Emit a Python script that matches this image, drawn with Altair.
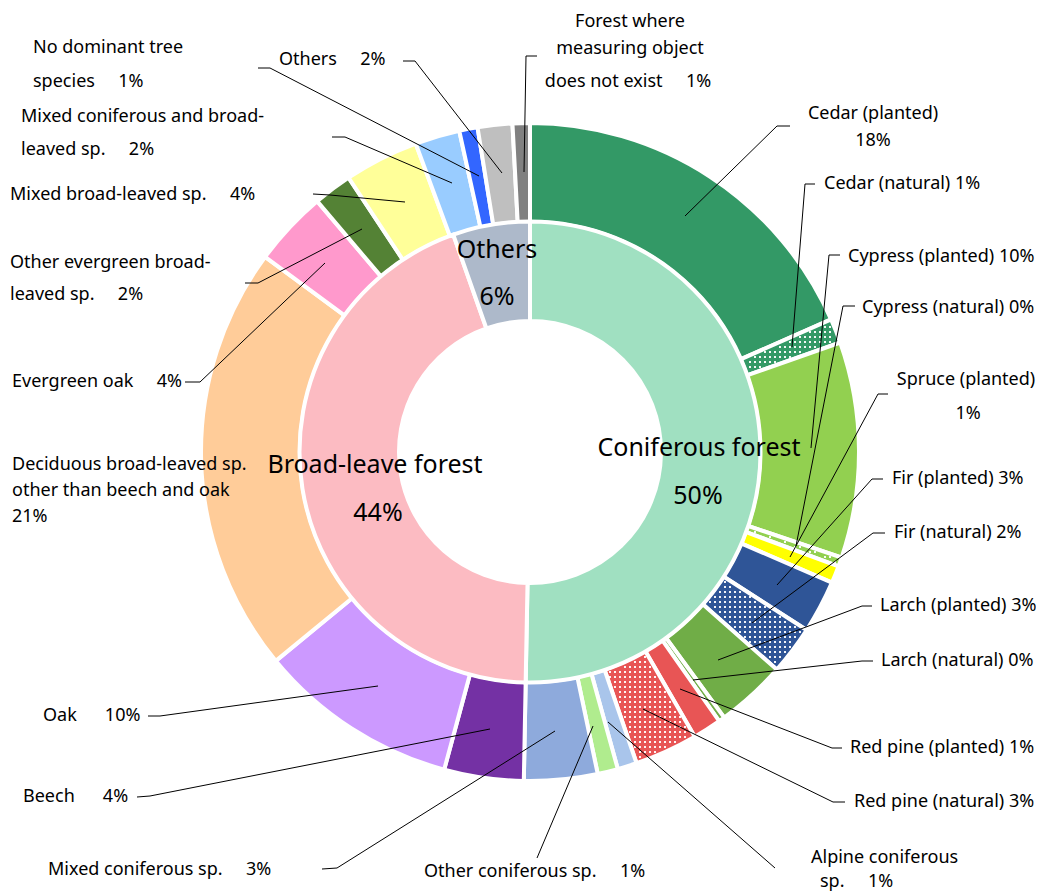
import math
import altair as alt
import pandas as pd

# ---------------- data ----------------
outer_names = [
    "Cedar (planted)", "Cedar (natural)", "Cypress (planted)", "Cypress (natural)",
    "Spruce (planted)", "Fir (planted)", "Fir (natural)", "Larch (planted)",
    "Larch (natural)", "Red pine (planted)", "Red pine (natural)",
    "Alpine coniferous sp.", "Other coniferous sp.", "Mixed coniferous sp.",
    "Beech", "Oak", "Deciduous broad-leaved sp. other than beech and oak",
    "Evergreen oak", "Other evergreen broad-leaved sp.", "Mixed broad-leaved sp.",
    "Mixed coniferous and broad-leaved sp.", "No dominant tree species",
    "Others (outer)", "Forest where measuring object does not exist",
]
outer_values = [18.4, 1.2, 10.6, 0.45, 0.85, 2.6, 2.4, 3.45, 0.3, 1.4, 3.1,
                0.95, 1.0, 3.6, 3.9, 9.85, 21.05, 3.7, 1.9, 3.65, 2.2, 0.9, 1.7, 0.85]
outer_dotted = [n.endswith("(natural)") for n in outer_names]

inner_names = ["Coniferous forest", "Broad-leave forest", "Others"]
inner_values = [50.3, 44.3, 5.4]

# ---------------- styles ----------------
outer_colors = ["#339966", "#339966", "#92D050", "#92D050", "#FFFF00", "#2F5597",
                "#2F5597", "#70AD47", "#70AD47", "#E85555", "#E85555", "#A9C5EB",
                "#B0EC8E", "#8EAADC", "#7431A4", "#CC99FF", "#FFCC99", "#FF99CC",
                "#548235", "#FFFF99", "#99CCFF", "#3366FF", "#BFBFBF", "#808080"]
inner_colors = ["#A0E0C1", "#FCBBC2", "#ADB9CA"]

FONT = "Noto Sans"
LABEL_SIZE = 18
RING_SIZE = 25
CX, CY = 530, 452          # ring centre (page px)
R_OUT, R_OUT2 = 329, 230
R_IN, R_IN2 = 230.5, 131
STROKE = 4
W, H = 1028, 885

xs = alt.Scale(domain=[8, 8 + W], nice=False, zero=False)
ys = alt.Scale(domain=[8 + H, 8], nice=False, zero=False)
theta_scale = alt.Scale(domain=[0, 100])

# ---------------- arcs ----------------
outer_df = pd.DataFrame({"name": outer_names, "value": outer_values,
                         "idx": list(range(len(outer_names))), "col": outer_colors})
inner_df = pd.DataFrame({"name": inner_names, "value": inner_values,
                         "idx": list(range(len(inner_names))), "col": inner_colors})

outer = alt.Chart(outer_df).mark_arc(radius=R_OUT, radius2=R_OUT2, stroke="white",
                                     strokeWidth=STROKE).encode(
    theta=alt.Theta("value:Q", stack=True, scale=theta_scale),
    order=alt.Order("idx:Q"),
    color=alt.Color("col:N", scale=None, legend=None),
    x=alt.value(CX - 8), y=alt.value(CY - 8),
)
inner = alt.Chart(inner_df).mark_arc(radius=R_IN, radius2=R_IN2, stroke="white",
                                     strokeWidth=STROKE).encode(
    theta=alt.Theta("value:Q", stack=True, scale=theta_scale),
    order=alt.Order("idx:Q"),
    color=alt.Color("col:N", scale=None, legend=None),
    x=alt.value(CX - 8), y=alt.value(CY - 8),
)

# ---------------- dot texture on "(natural)" slices ----------------
dots = []
cum = 0.0
for name, v, dotted in zip(outer_names, outer_values, outer_dotted):
    a0, a1 = cum * 3.6, (cum + v) * 3.6
    cum += v
    if not dotted:
        continue
    step = 5
    for gx in range(-340, 341, step):
        for gy in range(-340, 341, step):
            r = math.hypot(gx, gy)
            if r < R_OUT2 + 4 or r > R_OUT - 4:
                continue
            ang = math.degrees(math.atan2(gx, -gy)) % 360
            m = math.degrees(2.8 / r)
            if a0 + m <= ang <= a1 - m:
                dots.append({"px": CX + gx, "py": CY + gy})
dots_df = pd.DataFrame(dots)
dot_layer = alt.Chart(dots_df).mark_square(size=3.5, color="white", opacity=1,
                                           filled=True).encode(
    x=alt.X("px:Q", scale=xs, axis=None), y=alt.Y("py:Q", scale=ys, axis=None))

# ---------------- leader lines (layout) ----------------
leaders = [
    [(790, 126), (777, 126), (685, 216)],
    [(815, 184), (805, 184), (792, 347)],
    [(840, 255), (829, 255), (811, 448)],
    [(855, 306), (843, 306), (796, 546)],
    [(888, 394), (878, 394), (790, 557)],
    [(883, 479), (872, 479), (777, 585)],
    [(885, 533), (873, 533), (752, 623)],
    [(872, 606), (862, 606), (718, 660)],
    [(873, 661), (862, 661), (693, 680)],
    [(842, 748), (832, 748), (680, 689)],
    [(845, 802), (833, 802), (643, 709)],
    [(775, 868), (608, 722)],
    [(537, 858), (593, 726)],
    [(322, 869), (337, 868), (555, 731)],
    [(137, 797), (150, 796), (490, 729)],
    [(148, 716), (160, 716), (378, 686)],
    [(185, 382), (200, 382), (325, 263)],
    [(245, 283), (258, 283), (362, 229)],
    [(313, 194), (330, 195), (405, 202)],
    [(332, 137), (345, 137), (452, 183)],
    [(258, 68), (270, 68), (479, 176)],
    [(403, 61), (415, 61), (502, 173)],
    [(537, 56), (526, 56), (524, 172)],
]
line_rows = []
for i, pts in enumerate(leaders):
    for k, (px, py) in enumerate(pts):
        line_rows.append({"id": i, "k": k, "px": px, "py": py})
lines = alt.Chart(pd.DataFrame(line_rows)).mark_line(color="black", strokeWidth=1).encode(
    x=alt.X("px:Q", scale=xs, axis=None), y=alt.Y("py:Q", scale=ys, axis=None),
    detail="id:N", order="k:Q")

# ---------------- labels ----------------
S = "\u00a0"
gap = S * 5
left_labels = [
    ("Cedar (natural) 1%", 824, 184),
    ("Cypress (planted) 10%", 848, 257),
    ("Cypress (natural) 0%", 862, 308),
    ("Fir (planted) 3%", 892, 479),
    ("Fir (natural) 2%", 894, 533),
    ("Larch (planted) 3%", 880, 606),
    ("Larch (natural) 0%", 881, 661),
    ("Red pine (planted) 1%", 850, 748),
    ("Red pine (natural) 3%", 854, 802),
    ("Alpine coniferous", 811, 858),
    ("sp." + gap + "1%", 820, 882),
    ("Other coniferous sp." + gap + "1%", 424, 872),
    ("Mixed coniferous sp." + gap + "3%", 48, 870),
    ("Beech" + S * 6 + "4%", 23, 797),
    ("Oak" + S * 6 + "10%", 43, 716),
    ("Deciduous broad-leaved sp.", 12, 465),
    ("other than beech and oak", 12, 491),
    ("21%", 12, 517),
    ("Evergreen oak" + gap + "4%", 12, 382),
    ("Other evergreen broad-", 10, 263),
    ("leaved sp." + gap + "2%", 10, 295),
    ("Mixed broad-leaved sp." + gap + "4%", 10, 195),
    ("Mixed coniferous and broad-", 21, 117),
    ("leaved sp." + gap + "2%", 21, 150),
    ("No dominant tree", 33, 48),
    ("species" + gap + "1%", 33, 82),
    ("Others" + gap + "2%", 279, 60),
]
center_labels = [
    ("Cedar (planted)", 873, 114),
    ("18%", 873, 141),
    ("Spruce (planted)", 966, 380),
    ("1%", 968, 414),
    ("Forest where", 630, 22),
    ("measuring object", 630, 49),
    ("does not exist" + gap + "1%", 628, 82),
]
ring_labels = [
    ("Coniferous forest", 699, 448),
    ("50%", 698, 496),
    ("Broad-leave forest", 375, 465),
    ("44%", 378, 513),
    ("Others", 497, 250),
    ("6%", 497, 297),
]


def text_layer(rows, align, size):
    df = pd.DataFrame(rows, columns=["t", "px", "py"])
    return alt.Chart(df).mark_text(align=align, baseline="middle", font=FONT,
                                   fontSize=size, color="black").encode(
        x=alt.X("px:Q", scale=xs, axis=None), y=alt.Y("py:Q", scale=ys, axis=None),
        text="t:N")


chart = alt.layer(
    outer, inner, dot_layer, lines,
    text_layer(left_labels, "left", LABEL_SIZE),
    text_layer(center_labels, "center", LABEL_SIZE),
    text_layer(ring_labels, "center", RING_SIZE),
).resolve_scale(color="independent").properties(
    width=W, height=H, padding=0, autosize=alt.AutoSizeParams(type="none"),
    background="white",
).configure_view(stroke=None)

chart.save("out.html", embed_options={"renderer": "svg", "actions": False})
